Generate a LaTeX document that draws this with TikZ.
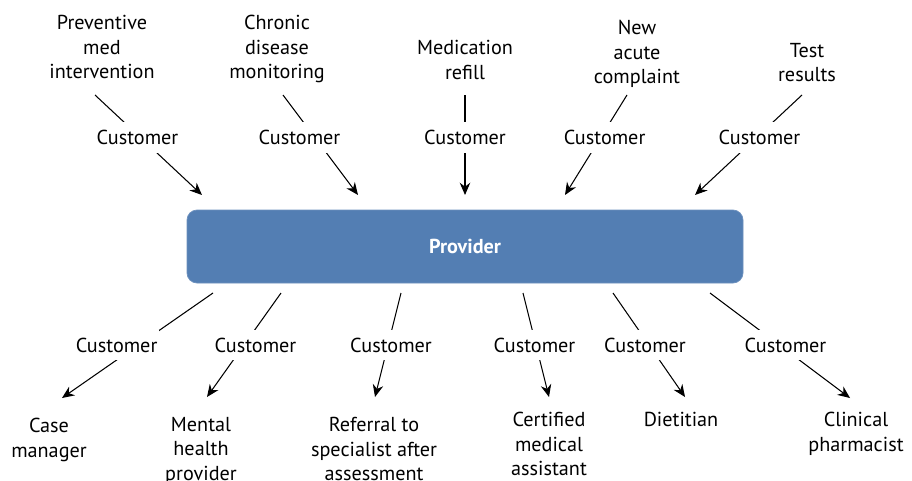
\documentclass[tikz,border=0pt]{standalone}
\usepackage{fontspec}
\setmainfont{PT Sans}
\usepackage{tikz}
\usetikzlibrary{arrows.meta}
\usepackage{xcolor}
\definecolor{xblue}{HTML}{537EB3}
\newlength{\unitpx}
\setlength{\unitpx}{0.02cm}
\tikzset{
	x=0.02cm, y=-0.02cm,
	arrow/.style={line width=0.6pt, -{Stealth[length=7pt, width=6pt]}},
	task/.style={align=center, inner sep=0pt, font=\fontsize{11.5}{13.9}\selectfont},
	customer/.style={fill=white, inner xsep=2\unitpx, inner ysep=8\unitpx, font=\fontsize{11.5}{13.9}\selectfont},
	provider/.style={fill=xblue, draw=xblue!85!white, rounded corners=10\unitpx, minimum width=556\unitpx, minimum height=73\unitpx, text=white, font=\fontsize{11.5}{13.9}\selectfont\bfseries},
}

\begin{document}
\begin{tikzpicture}
	\useasboundingbox (0,0) rectangle (912,480);

	\node[provider] (P) at (465,246.5) {Provider};

	% incoming requests
	\node[task, anchor=north] (T1) at (102,15) {Preventive\\med\\intervention};
	\node[task, anchor=north] (T2) at (277,15) {Chronic\\disease\\monitoring};
	\node[task, anchor=north] (T3) at (465,40) {Medication\\refill};
	\node[task, anchor=north] (T4) at (637,20) {New\\acute\\complaint};
	\node[task, anchor=north] (T5) at (807,43) {Test\\results};

	\coordinate (t1) at (95,95);   \coordinate (p1) at (202,195);
	\coordinate (t2) at (283,95);  \coordinate (p2) at (358,195);
	\coordinate (t3) at (465,95);  \coordinate (p3) at (465,195);
	\coordinate (t4) at (627,95);  \coordinate (p4) at (565,195);
	\coordinate (t5) at (802,95);  \coordinate (p5) at (695,195);

	\draw[arrow] (t1) -- node[customer, pos=.425, xshift=-3\unitpx] (C1) {Customer} (p1);
	\draw[arrow] (t2) -- node[customer, pos=.425, xshift=-15.4\unitpx] (C2) {Customer} (p2);
	\draw[arrow] (t3) -- node[customer, pos=.425] (C3) {Customer} (p3);
	\draw[arrow] (t4) -- node[customer, pos=.425, xshift=3.9\unitpx] (C4) {Customer} (p4);
	\draw[arrow] (t5) -- node[customer, pos=.425, xshift=3\unitpx] (C5) {Customer} (p5);

	% outgoing referrals
	\node[task, anchor=north] (R1) at (49,418) {Case\\manager};
	\node[task, anchor=north] (R2) at (201,417) {Mental\\health\\provider};
	\node[task, anchor=north] (R3) at (374,417) {Referral to\\specialist after\\assessment};
	\node[task, anchor=north] (R4) at (549,412) {Certified\\medical\\assistant};
	\node[task, anchor=north] (R5) at (681,412) {Dietitian};
	\node[task, anchor=north] (R6) at (856,412) {Clinical\\pharmacist};

	\coordinate (b1) at (213,293); \coordinate (r1) at (62,398);
	\coordinate (b2) at (281,293); \coordinate (r2) at (207,397);
	\coordinate (b3) at (401,293); \coordinate (r3) at (375,397);
	\coordinate (b4) at (523,293); \coordinate (r4) at (549,397);
	\coordinate (b5) at (613,293); \coordinate (r5) at (685,397);
	\coordinate (b6) at (710,293); \coordinate (r6) at (850,398);

	\draw[arrow] (b1) -- node[customer, pos=.495, xshift=-21.7\unitpx] (D1) {Customer} (r1);
	\draw[arrow] (b2) -- node[customer, pos=.5, xshift=11.5\unitpx] (D2) {Customer} (r2);
	\draw[arrow] (b3) -- node[customer, pos=.5, xshift=3\unitpx] (D3) {Customer} (r3);
	\draw[arrow] (b4) -- node[customer, pos=.5, xshift=-1.5\unitpx] (D4) {Customer} (r4);
	\draw[arrow] (b5) -- node[customer, pos=.5, xshift=-4\unitpx] (D5) {Customer} (r5);
	\draw[arrow] (b6) -- node[customer, pos=.495, xshift=6.2\unitpx] (D6) {Customer} (r6);
\end{tikzpicture}
\end{document}
